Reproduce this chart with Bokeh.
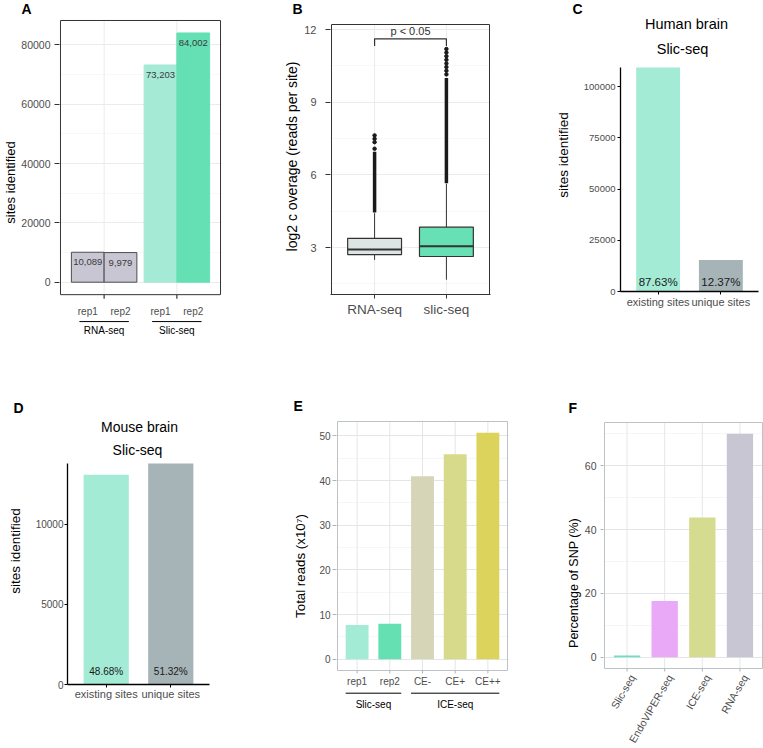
from math import pi
from bokeh.plotting import figure
from bokeh.models import Range1d, FixedTicker, ColumnDataSource, BasicTickFormatter
from bokeh.layouts import column, row
from bokeh.core.properties import value
from bokeh.embed import file_html
from bokeh.resources import INLINE

FONT = "Liberation Sans"
TICK_GRAY = "#4d4d4d"

# ---------------- data ----------------
# A: sites identified per replicate
a_methods = ["RNA-seq", "Slic-seq"]
a_reps = ["rep1", "rep2"]
a_rna_sites = [10089, 9979]
a_slic_sites = [73203, 84002]
a_yticks = [0, 20000, 40000, 60000, 80000]

# B: log2 coverage box plots
b_methods = ["RNA-seq", "slic-seq"]
b_whisker_low = [2.49, 1.67]
b_q1 = [2.71, 2.63]
b_median = [2.92, 3.05]
b_q3 = [3.38, 3.84]
b_whisker_high = [4.42, 5.63]
b_outlier_dense_low = [4.45, 5.65]
b_outlier_dense_high = [6.95, 10.0]
b_outliers_rna = [7.08, 7.35, 7.49, 7.63]
b_outliers_slic = [10.15, 10.3, 10.45, 10.6, 10.75, 10.9, 11.05, 11.2]
b_yticks = [3, 6, 9, 12]
b_bracket_y = 11.62
b_bracket_tip = 11.32
b_pvalue = "p < 0.05"

# C: human brain
c_title = ["Human brain", "Slic-seq"]
c_categories = ["existing sites", "unique sites"]
c_sites = [109300, 15430]
c_percent = ["87.63%", "12.37%"]
c_yticks = [0, 25000, 50000, 75000, 100000]

# D: mouse brain
d_title = ["Mouse brain", "Slic-seq"]
d_categories = ["existing sites", "unique sites"]
d_sites = [13100, 13810]
d_percent = ["48.68%", "51.32%"]
d_yticks = [0, 5000, 10000]

# E: total reads
e_samples = ["rep1", "rep2", "CE-", "CE+", "CE++"]
e_groups = ["Slic-seq", "ICE-seq"]
e_group_sizes = [2, 3]
e_reads = [7.65, 7.95, 41.0, 45.9, 50.7]
e_yticks = [0, 10, 20, 30, 40, 50]

# F: percentage of SNP
f_methods = ["Slic-seq", "EndoVIPER-seq", "ICE-seq", "RNA-seq"]
f_snp_pct = [0.6, 17.6, 43.8, 70.0]
f_yticks = [0, 20, 40, 60]


# ---------------- helpers ----------------
class Geo:
    """fig: page box of the figure; panel: page px of the data panel (L,R,T,B)
    mapped onto data ranges xr/yr; frame: page px of the Bokeh frame."""
    def __init__(self, fig, panel, xr, yr, frame=None):
        self.fx, self.fy, self.w, self.h = fig
        self.L, self.R, self.T, self.B = panel
        self.FL, self.FR, self.FT, self.FB = frame if frame else panel
        self.xr, self.yr = xr, yr

    def x(self, sx):
        return self.xr[0] + (sx - self.L) / (self.R - self.L) * (self.xr[1] - self.xr[0])

    def y(self, sy):
        return self.yr[0] + (self.B - sy) / (self.B - self.T) * (self.yr[1] - self.yr[0])

    def dy(self, px):
        return px / (self.B - self.T) * (self.yr[1] - self.yr[0])

    def fig(self, letter, letter_left):
        p = figure(width=self.w, height=self.h, title=letter,
                   x_range=Range1d(self.x(self.FL), self.x(self.FR)),
                   y_range=Range1d(self.y(self.FB), self.y(self.FT)),
                   min_border_left=self.FL - self.fx,
                   min_border_right=self.fx + self.w - self.FR,
                   min_border_top=self.FT - self.fy,
                   min_border_bottom=self.fy + self.h - self.FB,
                   output_backend="svg", toolbar_location=None)
        p.background_fill_color = "white"
        p.border_fill_color = "white"
        t = p.title
        t.align = "left"
        t.vertical_align = "top"
        t.offset = letter_left - self.FL
        t.standoff = 0
        t.text_font = FONT
        t.text_font_size = "14px"
        t.text_font_style = "bold"
        t.text_color = "black"
        return p


def mids(t):
    return [(a + b) / 2 for a, b in zip(t, t[1:])]


def txt(p, xs, ys, texts, size, color="black", align="center", baseline="middle", angle=0.0):
    p.text(x=xs, y=ys, text=texts, text_font=value(FONT), text_font_size=f"{size}px",
           text_color=color, text_align=align, text_baseline=baseline, angle=angle)


def yaxis_style(p, g, ticks, minor, size, tick_out, standoff, label, label_size,
                label_standoff, tick_color, line_color=None):
    ax = p.yaxis[0]
    ax.ticker = FixedTicker(ticks=ticks, minor_ticks=minor)
    ax.bounds = (g.yr[0], g.yr[1])
    ax.axis_line_color = line_color
    ax.axis_line_width = 1.3
    ax.minor_tick_line_color = None
    ax.major_tick_in = 0
    ax.major_tick_out = tick_out
    ax.major_tick_line_color = tick_color
    ax.major_label_text_font = FONT
    ax.major_label_text_font_size = f"{size}px"
    ax.major_label_text_color = TICK_GRAY
    ax.major_label_standoff = standoff
    ax.axis_label = label
    ax.axis_label_text_font = FONT
    ax.axis_label_text_font_size = f"{label_size}px"
    ax.axis_label_text_font_style = "normal"
    ax.axis_label_text_color = "black"
    ax.axis_label_standoff = label_standoff


def xaxis_style(p, ticks, labels, size, tick_out, standoff, tick_color, line_color=None,
                line_width=1.3):
    ax = p.xaxis[0]
    ax.ticker = FixedTicker(ticks=ticks)
    ax.major_label_overrides = {t: s for t, s in zip(ticks, labels)}
    ax.axis_line_color = line_color
    ax.axis_line_width = line_width
    ax.minor_tick_line_color = None
    ax.major_tick_in = 0
    ax.major_tick_out = tick_out
    ax.major_tick_line_color = tick_color
    ax.major_label_text_font = FONT
    ax.major_label_text_font_size = f"{size}px"
    ax.major_label_text_color = TICK_GRAY
    ax.major_label_standoff = standoff


def hand_panel(p, g, xs, border, grid, minor, hide_xaxis=True):
    """Panel drawn inside an enlarged frame: border box and vertical grid as glyphs."""
    p.outline_line_color = None
    if hide_xaxis:
        p.xaxis.visible = False
    p.xgrid.visible = False
    p.ygrid.grid_line_color = grid
    p.ygrid.minor_grid_line_color = minor
    p.ygrid.minor_grid_line_width = 0.6
    n = len(xs)
    p.segment(x0=xs, y0=[g.yr[0]] * n, x1=xs, y1=[g.yr[1]] * n, line_color=grid, line_width=1)
    return dict(left=g.xr[0], right=g.xr[1], bottom=g.yr[0], top=g.yr[1], color=border)


def draw_border(p, b):
    p.quad(left=[b["left"]], right=[b["right"]], bottom=[b["bottom"]], top=[b["top"]],
           fill_color=None, line_color=b["color"], line_width=1)


# ---------------- panel A ----------------
gA = Geo((0, 0, 250, 390), (56, 220, 19, 294), (0.4, 2.6), (-4200, 88202),
         frame=(55, 221, 17, 346))
pA = gA.fig("A", 17)
a_group_x = [1, 2]
bA = hand_panel(pA, gA, a_group_x, "#333333", "#ebebeb", "#f3f3f3")
dodge = 0.225
a_bar_x = [gx + s * dodge for gx in a_group_x for s in (-1, 1)]
a_bar_val = a_rna_sites + a_slic_sites
a_fill = ["#c9c6d4", "#c9c6d4", "#a4ead5", "#64e0b4"]
a_line = ["#4d4d4d", "#4d4d4d", "#a4ead5", "#64e0b4"]
srcA = ColumnDataSource(dict(x=a_bar_x, top=a_bar_val, fill=a_fill, line=a_line,
                             ty=[v - gA.dy(10) for v in a_bar_val],
                             lab=[f"{v:,}" for v in a_bar_val]))
pA.vbar(x="x", top="top", bottom=0, width=0.45, fill_color="fill", line_color="line",
        line_width=1, source=srcA)
pA.text(x="x", y="ty", text="lab", source=srcA, text_font=value(FONT),
        text_font_size="9.5px", text_color="#3a3a3a", text_align="center",
        text_baseline="middle")
draw_border(pA, bA)
pA.segment(x0=a_group_x, y0=[gA.yr[0]] * 2, x1=a_group_x, y1=[gA.y(298)] * 2,
           line_color="#333333", line_width=1.2)
txt(pA, a_bar_x, [gA.y(311)] * 4, a_reps * 2, 10, TICK_GRAY)
pA.segment(x0=[gx - 0.34 for gx in a_group_x], y0=[gA.y(321)] * 2,
           x1=[gx + 0.34 for gx in a_group_x], y1=[gA.y(321)] * 2,
           line_color="black", line_width=1)
txt(pA, a_group_x, [gA.y(330)] * 2, a_methods, 10)
yaxis_style(pA, gA, a_yticks, mids(a_yticks), 10.5, 5, 4, "sites identified", 13, 0,
            "#333333")

# ---------------- panel B ----------------
gB = Geo((250, 0, 250, 390), (331, 489, 24, 294), (0.4, 2.6), (1.06, 12.21),
         frame=(330, 490, 18, 294))
pB = gB.fig("B", 292)
bx = [1, 2]
bB = hand_panel(pB, gB, bx, "#333333", "#ebebeb", "#f3f3f3", hide_xaxis=False)
pB.segment(x0=bx, y0=b_q3, x1=bx, y1=b_whisker_high, line_color="#333333", line_width=1)
pB.segment(x0=bx, y0=b_q1, x1=bx, y1=b_whisker_low, line_color="#333333", line_width=1)
pB.segment(x0=bx, y0=b_outlier_dense_low, x1=bx, y1=b_outlier_dense_high,
           line_color="#1a1a1a", line_width=3.5)
pB.scatter(x=[1] * len(b_outliers_rna), y=b_outliers_rna, size=3.5, color="#1a1a1a")
pB.scatter(x=[2] * len(b_outliers_slic), y=b_outliers_slic, size=3.5, color="#1a1a1a")
pB.vbar(x=bx, bottom=b_q1, top=b_q3, width=0.75, fill_color=["#dde4e4", "#66e0b4"],
        line_color="#333333", line_width=1.2)
pB.segment(x0=[x - 0.375 for x in bx], y0=b_median, x1=[x + 0.375 for x in bx],
           y1=b_median, line_color="#333333", line_width=2)
pB.line(x=[bx[0], bx[0], bx[1], bx[1]],
        y=[b_bracket_tip, b_bracket_y, b_bracket_y, b_bracket_tip],
        line_color="#333333", line_width=1.2)
txt(pB, [(bx[0] + bx[1]) / 2], [b_bracket_y + gB.dy(2)], [b_pvalue], 11, "#333333",
    baseline="bottom")
draw_border(pB, bB)
xaxis_style(pB, bx, b_methods, 13.5, 4, 3, "#333333", "#333333", 1)
yaxis_style(pB, gB, b_yticks, [1.5] + mids(b_yticks), 11, 5, 9,
            "log2 c overage (reads per site)", 14, 1, "#333333")

# ---------------- panel C ----------------
gC = Geo((500, 0, 263, 390), (620, 758, 67, 291), (0.4, 2.6), (0, max(c_sites)),
         frame=(620, 758, 18, 291))
pC = gC.fig("C", 572)
pC.outline_line_color = None
pC.xgrid.visible = False
pC.ygrid.visible = False
cx = [1, 2]
pC.vbar(x=cx, top=c_sites, bottom=0, width=0.7, fill_color=["#a4ebd6", "#a6b4b7"],
        line_color=None)
txt(pC, cx, [gC.dy(9.3)] * 2, c_percent, 11.5, "#1a1a1a")
txt(pC, [gC.x(686)], [gC.y(23.5)], [c_title[0]], 14.5)
txt(pC, [gC.x(682)], [gC.y(48)], [c_title[1]], 14.5)
xaxis_style(pC, cx, c_categories, 11, 3, 1, "black", "black")
yaxis_style(pC, gC, c_yticks, [], 9.5, 3, 2, "sites identified", 13.5, 10, "black",
            "black")
pC.yaxis[0].formatter = BasicTickFormatter(use_scientific=False)

# ---------------- panel D ----------------
gD = Geo((0, 390, 260, 358), (67, 209, 463, 684), (0.4, 2.6), (0, max(d_sites)),
         frame=(67, 209, 417, 684))
pD = gD.fig("D", 13)
pD.outline_line_color = None
pD.xgrid.visible = False
pD.ygrid.visible = False
dx = [1, 2]
pD.vbar(x=dx, top=d_sites, bottom=0, width=0.7, fill_color=["#a4ebd6", "#a6b4b7"],
        line_color=None)
txt(pD, dx, [gD.dy(13)] * 2, d_percent, 10, "#1a1a1a")
txt(pD, [gD.x(139)], [gD.y(426.5)], [d_title[0]], 14)
txt(pD, [gD.x(137)], [gD.y(449)], [d_title[1]], 14)
xaxis_style(pD, dx, d_categories, 11, 3, 0, "black", "black")
yaxis_style(pD, gD, d_yticks, [], 10, 3, 1, "sites identified", 13.5, 10, "black",
            "black")

# ---------------- panel E ----------------
gE = Geo((260, 390, 255, 358), (337, 507, 421, 670), (0.4, 5.6), (-2.54, 53.24),
         frame=(336, 508, 415, 716))
pE = gE.fig("E", 293)
ex = list(range(1, len(e_samples) + 1))
bE = hand_panel(pE, gE, ex, "#bcc3c6", "#e3e6e8", "#eff1f2")
e_fill = ["#a4ebd5", "#64e0b3", "#d7d5b7", "#d6da8a", "#dbd35b"]
pE.vbar(x=ex, top=e_reads, bottom=0, width=0.7, fill_color=e_fill, line_color=None)
draw_border(pE, bE)
pE.segment(x0=ex, y0=[gE.yr[0]] * len(ex), x1=ex, y1=[gE.y(673)] * len(ex),
           line_color="#b3b3b3", line_width=1)
txt(pE, ex, [gE.y(681)] * len(ex), e_samples, 10, TICK_GRAY)
start = 1
for name, n in zip(e_groups, e_group_sizes):
    x0, x1 = start, start + n - 1
    pE.segment(x0=[x0 - 0.35], y0=[gE.y(692.7)], x1=[x1 + 0.35], y1=[gE.y(692.7)],
               line_color="black", line_width=1)
    txt(pE, [(x0 + x1) / 2], [gE.y(703.5)], [name], 10)
    start += n
yaxis_style(pE, gE, e_yticks, mids(e_yticks), 10, 4, 2, "Total reads (x10\u2077)", 13.3, 8,
            "#b3b3b3")

# ---------------- panel F ----------------
gF = Geo((515, 390, 248, 358), (604, 762, 422, 668), (0.4, 4.6), (-3.5, 73.5),
         frame=(603, 763, 417, 748))
pF = gF.fig("F", 568)
fx = list(range(1, len(f_methods) + 1))
bF = hand_panel(pF, gF, fx, "#bcc3c6", "#e3e6e8", "#eff1f2")
f_fill = ["#6fdcc3", "#e9a9f6", "#d6dc8f", "#c9c6d4"]
pF.vbar(x=fx, top=f_snp_pct, bottom=0, width=0.7, fill_color=f_fill, line_color=None)
draw_border(pF, bF)
pF.segment(x0=fx, y0=[gF.yr[0]] * len(fx), x1=fx, y1=[gF.y(671)] * len(fx),
           line_color="#b3b3b3", line_width=1)
txt(pF, fx, [gF.y(672)] * len(fx), f_methods, 10.5, TICK_GRAY, align="right",
    baseline="top", angle=pi / 3)
yaxis_style(pF, gF, f_yticks, mids(f_yticks) + [70], 10.5, 3, 3,
            "Percentage of SNP (%)", 12.5, 1, "#b3b3b3")

layout = column(row(column(pA), column(pB), column(pC)),
                row(column(pD), column(pE), column(pF)))
open("out.html", "w").write(file_html(layout, INLINE))
